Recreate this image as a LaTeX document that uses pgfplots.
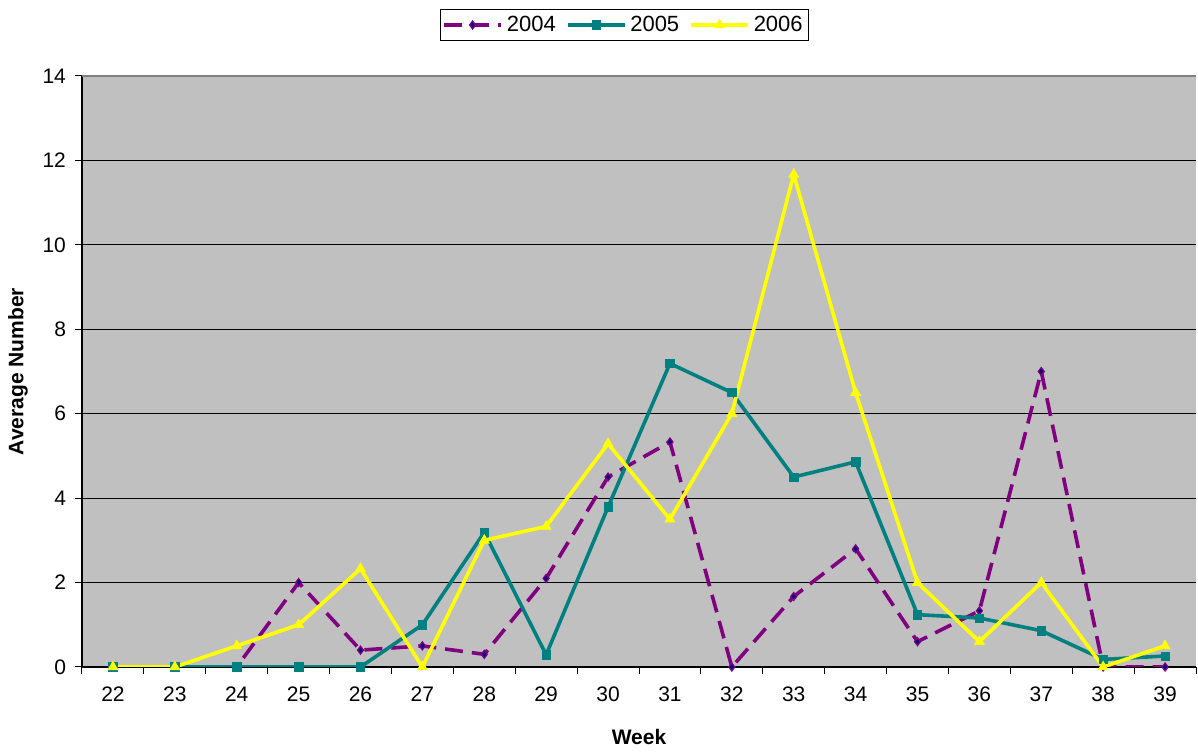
\documentclass[border=0pt]{standalone}
\usepackage{pgfplots}
\pgfplotsset{compat=1.18}
\usepackage{fontspec}
\setmainfont{Liberation Sans}
\definecolor{plotbg}{HTML}{C0C0C0}
\definecolor{xlpurple}{HTML}{800080}
\definecolor{xlnavy}{HTML}{000080}
\definecolor{xlteal}{HTML}{008080}
\definecolor{xlyellow}{HTML}{FFFF00}
\begin{document}
\begin{tikzpicture}
\begin{axis}[
    scale only axis,
    width=557pt, height=295.5pt,
    xmin=21.5, xmax=39.5,
    ymin=0, ymax=14,
    axis x line*=bottom, axis y line*=left,
    xtick={22,...,39},
    ytick={0,2,...,14},
    minor xtick={21.5,22.5,...,39.5},
    tick align=outside,
    major x tick style={draw=none},
    minor tick length=3.5pt,
    major tick length=3.5pt,
    tick style={black, line width=0.5pt},
    ymajorgrids,
    grid style={black, line width=0.5pt},
    axis background/.style={fill=plotbg},
    axis line style={black, line width=0.6pt, -},
    font=\fontsize{10.5}{12}\selectfont,
    /pgf/number format/assume math mode=true,
    xticklabel style={yshift=-3pt},
    yticklabel style={xshift=-1pt},
    xlabel={\textbf{Week}},
    ylabel={\textbf{Average Number}},
    every axis x label/.style={at={([yshift=-35pt]axis description cs:0.5,0)}, anchor=center},
    every axis y label/.style={at={([xshift=-32pt]axis description cs:0,0.5)}, anchor=center, rotate=90},
    legend columns=3,
    legend style={at={([yshift=25.5pt]axis description cs:0.487,1)}, anchor=center,
        draw=black, line width=0.5pt, fill=white, inner sep=1pt,
        font=\fontsize{11}{12}\selectfont,
        /tikz/every even column/.append style={column sep=3pt}},
    legend image code/.code={
        \draw[mark repeat=2,mark phase=2] plot coordinates {(0cm,0cm) (0.5cm,0cm) (1cm,0cm)};},
]
\draw[gray, line width=1pt] (rel axis cs:0,1) -- (rel axis cs:1,1);
\addplot[xlpurple, line width=1.8pt, dash pattern=on 9pt off 4.5pt,
    mark=diamond*, mark size=2pt, mark options={solid, fill=xlnavy, draw=xlpurple, line width=0.6pt}]
    coordinates {(22,0) (23,0) (24,0) (25,2.0) (26,0.4) (27,0.5) (28,0.3) (29,2.1) (30,4.5)
    (31,5.33) (32,0) (33,1.67) (34,2.8) (35,0.6) (36,1.33) (37,7.0) (38,0) (39,0)};
\addlegendentry{2004}
\addplot[xlteal, line width=1.8pt, mark=square*, mark size=2.1pt, mark options={solid, fill=xlteal, line width=0.3pt}]
    coordinates {(22,0) (23,0) (24,0) (25,0) (26,0) (27,1.0) (28,3.19) (29,0.29) (30,3.79)
    (31,7.19) (32,6.5) (33,4.5) (34,4.86) (35,1.24) (36,1.16) (37,0.86) (38,0.18) (39,0.26)};
\addlegendentry{2005}
\addplot[xlyellow, line width=1.8pt, mark=triangle*, mark size=2.9pt, mark options={solid, fill=xlyellow, line width=0.3pt}]
    coordinates {(22,0) (23,0) (24,0.5) (25,1.0) (26,2.33) (27,0) (28,3.0) (29,3.33) (30,5.29)
    (31,3.5) (32,6.0) (33,11.67) (34,6.5) (35,2.0) (36,0.6) (37,2.0) (38,0) (39,0.5)};
\addlegendentry{2006}
\end{axis}
\pgfresetboundingbox
\path ([shift={(-41pt,-42.5pt)}]current axis.south west) rectangle ([shift={(1pt,38pt)}]current axis.north east);
\end{tikzpicture}
\end{document}
